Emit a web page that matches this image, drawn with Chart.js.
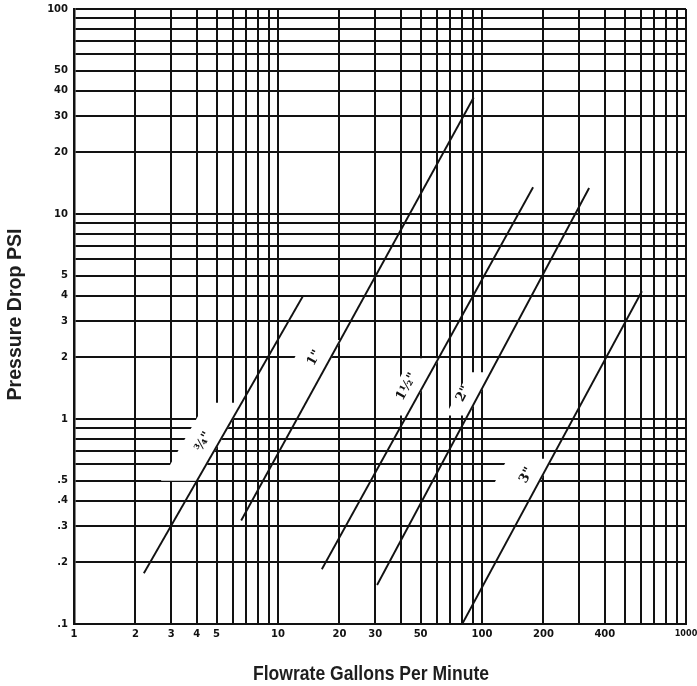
<!DOCTYPE html>
<html>
<head>
<meta charset="utf-8">
<script src="https://cdn.jsdelivr.net/npm/chart.js@4.4.1/dist/chart.umd.min.js"></script>
<style>
  body { margin: 0; background: #fff; }
  canvas { display: block; }
</style>
</head>
<body>
<canvas id="chart" width="697" height="686"></canvas>
<script>
// pipe sizes and the two end points of each pressure-drop line (gpm, psi)
const pipeSizes = ['¾"', '1"', '1½"', '2"', '3"'];
const flow075 = [2.2, 13.3];
const psi075 = [0.177, 4];
const flow100 = [6.6, 91];
const psi100 = [0.32, 37];
const flow150 = [16.4, 178];
const psi150 = [0.185, 13.5];
const flow200 = [30.6, 335];
const psi200 = [0.155, 13.4];
const flow300 = [80, 608];
const psi300 = [0.1, 4.2];

// grid values and which of them carry a label
const xGrid = [1, 2, 3, 4, 5, 6, 7, 8, 9, 10, 20, 30, 40, 50, 60, 70, 80, 90, 100,
               200, 300, 400, 500, 600, 700, 800, 900, 1000];
const xTickLabels = [1, 2, 3, 4, 5, 10, 20, 30, 50, 100, 200, 400, 1000];
const yGrid = [0.1, 0.2, 0.3, 0.4, 0.5, 0.6, 0.7, 0.8, 0.9, 1, 2, 3, 4, 5, 6, 7, 8, 9, 10,
               20, 30, 40, 50, 60, 70, 80, 90, 100];
const yTickLabels = [0.1, 0.2, 0.3, 0.4, 0.5, 1, 2, 3, 4, 5, 10, 20, 30, 40, 50, 100];

const xTitle = 'Flowrate Gallons Per Minute';
const yTitle = 'Pressure Drop PSI';

// where the grid is cut away beside each size label (psi range, px width)
const gapLow = [0.5, 1.62, 1.04, 1.04, 0.44];
const gapHigh = [1.2, 2.43, 1.98, 1.69, 0.64];
const gapWidth = [36, 36, 28, 22, 44];

const flows = [flow075, flow100, flow150, flow200, flow300];
const psis = [psi075, psi100, psi150, psi200, psi300];

const ink = '#121212';

function fmtPsi(v) {
    if (v < 1) return '.' + Math.round(v * 10);
    return String(v);
}

// squeeze a bold sans title into the narrow width of the original
function narrowText(ctx, text, x, y, width) {
    const w = ctx.measureText(text).width;
    ctx.save();
    ctx.translate(x, y);
    ctx.scale(width / w, 1);
    ctx.fillText(text, 0, 0);
    ctx.restore();
}

const titlePlugin = {
    id: 'narrowTitles',
    afterDraw(chart) {
        const { ctx, chartArea } = chart;
        ctx.save();
        ctx.fillStyle = '#1e1e1e';
        ctx.font = 'bold 21px "Liberation Sans", Arial, sans-serif';
        ctx.textAlign = 'center';
        ctx.textBaseline = 'middle';
        narrowText(ctx, xTitle, (chartArea.left + chartArea.right) / 2 - 9, 674, 236);
        ctx.translate(15, (chartArea.top + chartArea.bottom) / 2 - 2);
        ctx.rotate(-Math.PI / 2);
        narrowText(ctx, yTitle, 0, 0, 172);
        ctx.restore();
    }
};

const sizeLabelPlugin = {
    id: 'sizeLabels',
    beforeDatasetsDraw(chart) {
        const { ctx, chartArea, scales: { x, y } } = chart;
        ctx.save();
        ctx.beginPath();
        ctx.rect(chartArea.left, chartArea.top, chartArea.right - chartArea.left, chartArea.bottom - chartArea.top);
        ctx.clip();
        ctx.fillStyle = '#fff';
        chart.$gaps = [];
        flows.forEach((fl, i) => {
            const x0 = x.getPixelForValue(fl[0]), y0 = y.getPixelForValue(psis[i][0]);
            const x1 = x.getPixelForValue(fl[1]), y1 = y.getPixelForValue(psis[i][1]);
            const lineX = py => x0 + (py - y0) * (x1 - x0) / (y1 - y0);
            const yt = y.getPixelForValue(gapHigh[i]);
            const yb = y.getPixelForValue(gapLow[i]);
            const xt = lineX(yt), xb = lineX(yb);
            const w = gapWidth[i];
            ctx.beginPath();
            ctx.moveTo(xt - w, yt);
            ctx.lineTo(xt + 1, yt);
            ctx.lineTo(xb + 1, yb);
            ctx.lineTo(xb - w, yb);
            ctx.closePath();
            ctx.fill();
            chart.$gaps.push({ x: (xt + xb) / 2 - 16, y: (yt + yb) / 2, a: Math.atan2(y1 - y0, x1 - x0) });
        });
        ctx.restore();
    },
    afterDatasetsDraw(chart) {
        const { ctx } = chart;
        ctx.save();
        ctx.fillStyle = ink;
        ctx.font = 'bold 13px "DejaVu Serif", serif';
        ctx.textAlign = 'center';
        ctx.textBaseline = 'middle';
        (chart.$gaps || []).forEach((g, i) => {
            ctx.save();
            ctx.translate(g.x, g.y);
            ctx.rotate(g.a);
            ctx.fillText(pipeSizes[i], 0, 0);
            ctx.restore();
        });
        ctx.restore();
    }
};

const datasets = pipeSizes.map((name, i) => ({
    label: name,
    data: flows[i].map((f, j) => ({ x: f, y: psis[i][j] })),
    borderColor: ink,
    borderWidth: 1.9,
    pointRadius: 0,
    fill: false,
    tension: 0
}));

const tickFont = { family: '"DejaVu Sans", sans-serif', size: 10, weight: 'bold' };
const edgeTickFont = { family: '"DejaVu Sans Condensed", "DejaVu Sans", sans-serif', size: 9, weight: 'bold' };

new Chart(document.getElementById('chart'), {
    type: 'line',
    data: { datasets: datasets },
    options: {
        responsive: false,
        animation: false,
        layout: { padding: { top: 9, right: 11, left: 0, bottom: 0 } },
        plugins: {
            legend: { display: false },
            tooltip: { enabled: false }
        },
        scales: {
            x: {
                type: 'logarithmic',
                min: 1,
                max: 1000,
                afterBuildTicks: s => { s.ticks = xGrid.map(v => ({ value: v })); },
                afterFit: s => { s.height = 62; s.paddingLeft = 0; s.paddingRight = 0; },
                ticks: {
                    autoSkip: false,
                    maxRotation: 0,
                    padding: 4,
                    color: ink,
                    font: c => (c.tick && c.tick.value === 1000) ? edgeTickFont : tickFont,
                    callback: v => xTickLabels.includes(v) ? String(v) : ''
                },
                grid: { color: ink, lineWidth: 2, drawTicks: false },
                border: { display: true, color: ink, width: 2 }
            },
            y: {
                type: 'logarithmic',
                min: 0.1,
                max: 100,
                afterBuildTicks: s => { s.ticks = yGrid.map(v => ({ value: v })); },
                afterFit: s => { s.width = 74; s.paddingTop = 0; s.paddingBottom = 0; },
                ticks: {
                    autoSkip: false,
                    padding: 6,
                    color: ink,
                    font: tickFont,
                    callback: v => yTickLabels.some(t => Math.abs(t - v) < 1e-9) ? fmtPsi(v) : ''
                },
                grid: { color: ink, lineWidth: 2, drawTicks: false },
                border: { display: true, color: ink, width: 2.5 }
            }
        }
    },
    plugins: [sizeLabelPlugin, titlePlugin]
});
</script>
</body>
</html>
